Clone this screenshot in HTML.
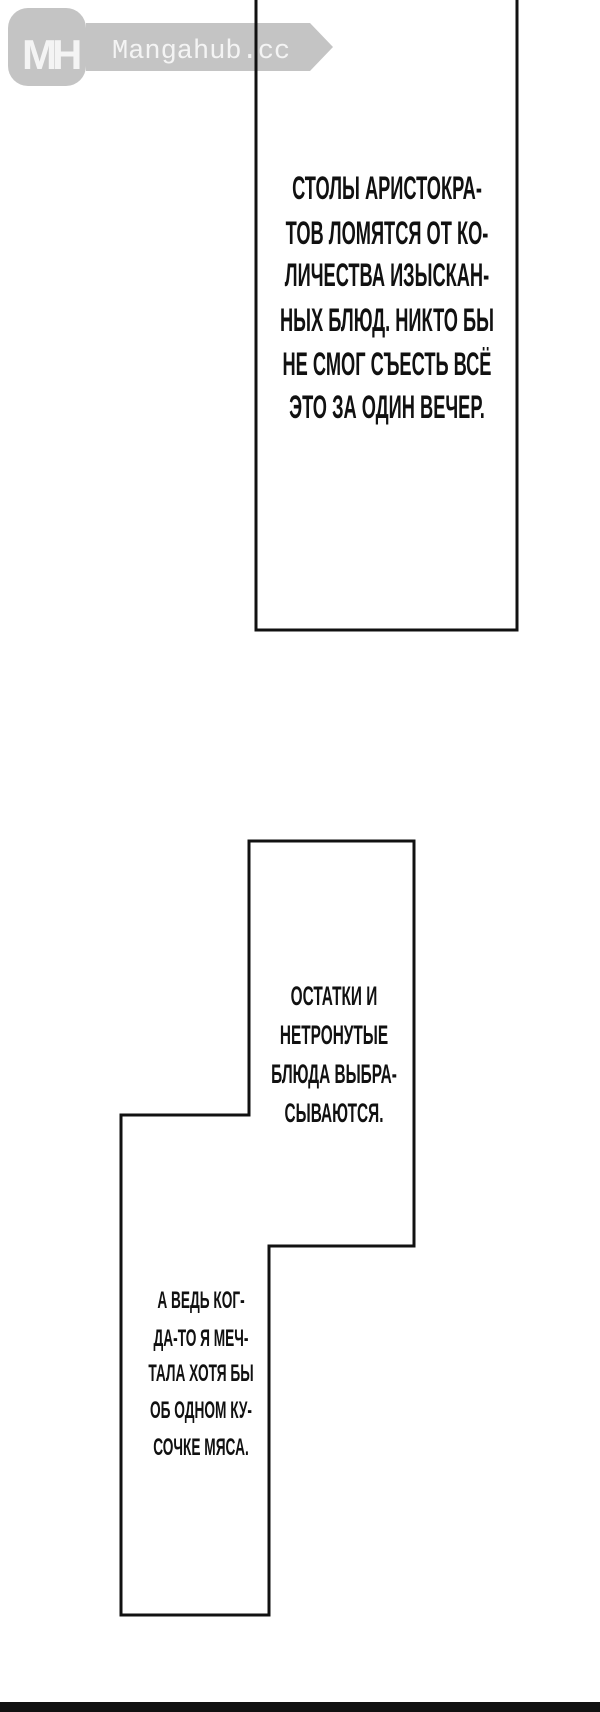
<!DOCTYPE html>
<html><head><meta charset="utf-8"><style>
html,body{margin:0;padding:0;background:#fff;}
body{width:600px;height:1712px;position:relative;overflow:hidden;}
.t{position:absolute;font-family:"Liberation Sans",sans-serif;font-weight:bold;color:#111;white-space:nowrap;text-align:center;line-height:1;width:600px;}
.t div{position:absolute;left:0;width:600px;text-align:center;transform:scaleX(0.57);transform-origin:300px 50%;}
</style></head><body>
<svg width="600" height="1712" style="position:absolute;left:0;top:0">
  <rect x="8" y="8" width="78" height="78" rx="20" fill="#c4c4c4"/>
  <polygon points="86,23 310,23 333,47 310,71 86,71" fill="#c4c4c4"/>
  <text x="22" y="69" font-family="Liberation Sans" font-weight="bold" font-size="42" fill="#f4f4f4" letter-spacing="-5">MH</text>
  <text x="112" y="58" font-family="Liberation Mono" font-size="27" fill="#f4f4f4">Mangahub.cc</text>
  <polyline points="256,0 256,630 517,630 517,0" fill="none" stroke="#111" stroke-width="3"/>
  <polygon points="249,841 414,841 414,1246 269,1246 269,1615 121,1615 121,1115 249,1115" fill="none" stroke="#111" stroke-width="3"/>
  <rect x="0" y="1702" width="600" height="10" fill="#111"/>
</svg>
<div class="t" style="left:87px;top:-3px;font-size:32px;">
  <div style="top:175px">СТОЛЫ АРИСТОКРА-</div>
  <div style="top:220px">ТОВ ЛОМЯТСЯ ОТ КО-</div>
  <div style="top:262px">ЛИЧЕСТВА ИЗЫСКАН-</div>
  <div style="top:307px">НЫХ БЛЮД. НИКТО БЫ</div>
  <div style="top:351px">НЕ СМОГ СЪЕСТЬ ВСЁ</div>
  <div style="top:394px">ЭТО ЗА ОДИН ВЕЧЕР.</div>
</div>
<div class="t" style="left:34px;top:0;font-size:27px;">
  <div style="top:983px">ОСТАТКИ И</div>
  <div style="top:1022px">НЕТРОНУТЫЕ</div>
  <div style="top:1061px">БЛЮДА ВЫБРА-</div>
  <div style="top:1100px">СЫВАЮТСЯ.</div>
</div>
<div class="t" style="left:-99px;top:0;font-size:24px;">
  <div style="top:1289px">А ВЕДЬ КОГ-</div>
  <div style="top:1327px">ДА-ТО Я МЕЧ-</div>
  <div style="top:1362px">ТАЛА ХОТЯ БЫ</div>
  <div style="top:1399px">ОБ ОДНОМ КУ-</div>
  <div style="top:1436px">СОЧКЕ МЯСА.</div>
</div>
</body></html>
